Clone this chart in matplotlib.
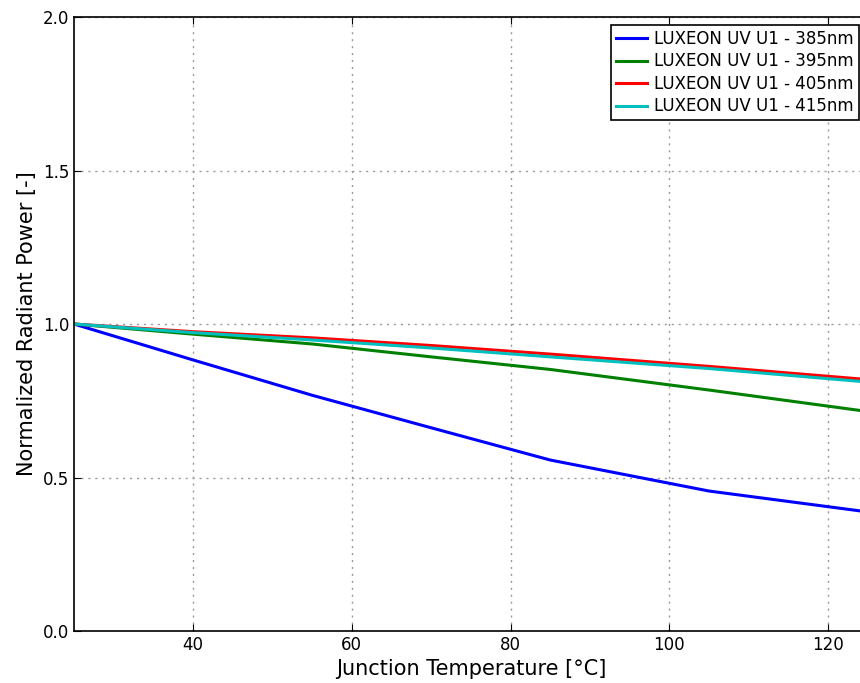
import numpy as np
import matplotlib
matplotlib.use("Agg")
import matplotlib.pyplot as plt

# junction temperature [degC] and normalized radiant power per wavelength
temps = [25, 40, 55, 70, 85, 105, 125]
p385 = [1.0, 0.883, 0.768, 0.662, 0.557, 0.456, 0.388]
p395 = [1.0, 0.967, 0.935, 0.893, 0.852, 0.785, 0.715]
p405 = [1.0, 0.975, 0.955, 0.930, 0.902, 0.862, 0.819]
p415 = [1.0, 0.972, 0.948, 0.922, 0.893, 0.855, 0.811]

labels = ["LUXEON UV U1 - 385nm", "LUXEON UV U1 - 395nm",
          "LUXEON UV U1 - 405nm", "LUXEON UV U1 - 415nm"]
colors = ['b', 'g', 'r', 'c']

fig = plt.figure(figsize=(8.6, 6.83), dpi=100)
# the original was cropped on the right, so the axes run past the figure edge
ax = fig.add_axes([0.086, 0.0761, 0.923, 0.899])

for y, lab, c in zip([p385, p395, p405, p415], labels, colors):
    ax.plot(temps, y, color=c, lw=2.2, label=lab)

ax.set_xlim(25, 125)
ax.set_ylim(0, 2.0)
ax.set_xticks([40, 60, 80, 100, 120])
ax.set_yticks([0.0, 0.5, 1.0, 1.5, 2.0])
ax.yaxis.set_major_formatter(matplotlib.ticker.FormatStrFormatter('%.1f'))
ax.tick_params(direction='in', top=True, right=True, labelsize=12, length=5)
ax.grid(True, color='0.6', linestyle=(0, (1.5, 3.5)), lw=1)

for s in ax.spines.values():
    s.set_linewidth(1.2)

ax.set_xlabel("Junction Temperature [°C]", fontsize=15)
ax.set_ylabel("Normalized Radiant Power [-]", fontsize=15)

leg = ax.legend(loc='upper right', fontsize=12, fancybox=False,
                framealpha=1, edgecolor='k', labelspacing=0.27,
                borderpad=0.3, handletextpad=0.45, handlelength=1.85,
                bbox_to_anchor=(0.9886, 0.987), borderaxespad=0)
leg.get_frame().set_linewidth(1.2)

plt.savefig("out.png")
